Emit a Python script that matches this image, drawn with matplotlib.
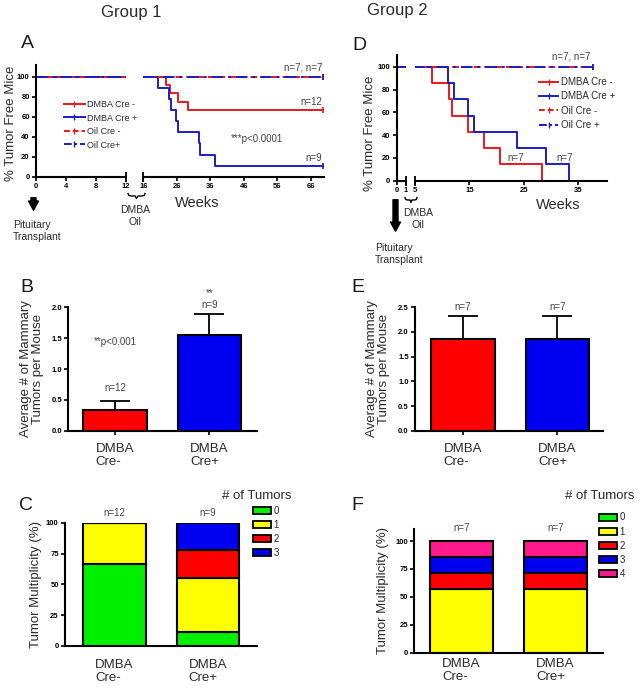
import matplotlib

matplotlib.use("Agg")
import matplotlib.pyplot as plt
from matplotlib.lines import Line2D
from matplotlib.patches import Patch

plt.rcParams.update({
    "font.family": ["Liberation Sans", "DejaVu Sans"],
    "axes.linewidth": 1.5,
    "xtick.major.width": 1.2,
    "ytick.major.width": 1.2,
    "xtick.major.size": 3,
    "ytick.major.size": 3,
    "xtick.labelsize": 5.5,
    "ytick.labelsize": 5.5,
})

W, H = 640, 688
TXT = "#2a2a2a"
RED_L, BLUE_L = "#e8181c", "#1c1cc4"
RED, BLUE, GREEN, YELLOW, PINK = "#ff0000", "#0000f0", "#00f000", "#ffff00", "#ff1a8c"

# ---- Group 1 survival (panel A), weeks / % tumor free ----
a_dmba_neg_t = [0, 22.7, 24.0, 26.5, 29.5, 69.7]
a_dmba_neg_s = [100, 91.7, 83.3, 75.0, 66.7, 66.7]
a_dmba_pos_t = [0, 20.5, 23.7, 24.2, 25.8, 26.5, 32.5, 33.0, 37.5, 69.7]
a_dmba_pos_s = [100, 88.9, 77.8, 66.7, 55.6, 44.4, 33.3, 22.2, 11.1, 11.1]
a_oil_t = [0, 69.7]
a_oil_s = [100, 100]

# ---- Group 2 survival (panel D) ----
d_dmba_neg_t = [0, 8.1, 11.3, 11.9, 14.8, 17.7, 20.6, 28.3]
d_dmba_neg_s = [100, 85.7, 71.4, 57.1, 42.9, 28.6, 14.3, 0]
d_dmba_pos_t = [0, 11.0, 12.1, 14.8, 15.9, 23.8, 29.1, 33.3]
d_dmba_pos_s = [100, 85.7, 71.4, 57.1, 42.9, 28.6, 14.3, 0]
d_oil_t = [0, 37.8]
d_oil_s = [100, 100]

# ---- average tumors per mouse (B, E) ----
bar_groups = ["DMBA\nCre-", "DMBA\nCre+"]
b_mean = [0.333, 1.556]
b_err = [0.142, 0.333]
b_n = ["n=12", "n=9"]
e_mean = [1.857, 1.857]
e_err = [0.46, 0.46]
e_n = ["n=7", "n=7"]

# ---- tumor multiplicity % (C, F) ----
c_counts = ["0", "1", "2", "3"]
c_cre_neg = [66.7, 33.3, 0, 0]
c_cre_pos = [11.1, 44.4, 22.2, 22.2]
f_counts = ["0", "1", "2", "3", "4"]
f_cre_neg = [0, 57.1, 14.3, 14.3, 14.3]
f_cre_pos = [0, 57.1, 14.3, 14.3, 14.3]
stack_colors = [GREEN, YELLOW, RED, BLUE, PINK]


def rect(l, t, r, b):
    return [l / W, 1 - b / H, (r - l) / W, (b - t) / H]


def ftext(fig, x, y, s, **kw):
    kw.setdefault("color", TXT)
    fig.text(x / W, 1 - y / H, s, **kw)


def style_axis(ax, left=True):
    ax.spines["top"].set_visible(False)
    ax.spines["right"].set_visible(False)
    if not left:
        ax.spines["left"].set_visible(False)
        ax.tick_params(axis="y", left=False, labelleft=False)
    for lab in ax.get_xticklabels() + ax.get_yticklabels():
        lab.set_fontweight("bold")
    ax.tick_params(pad=1.5)
    ax.patch.set_alpha(0)


def km_curves(ax, neg_t, neg_s, pos_t, pos_s, oil_t, oil_s, end_marks):
    kw = dict(where="post", lw=1.4)
    mk = dict(marker="|", markersize=5, markeredgewidth=1.2)
    ax.step(neg_t, neg_s, color=RED_L, ls="-", **kw,
            **(dict(markevery=[len(neg_t) - 1], **mk) if end_marks else {}))
    ax.step(pos_t, pos_s, color=BLUE_L, ls="-", **kw,
            **(dict(markevery=[len(pos_t) - 1], **mk) if end_marks else {}))
    ax.step(oil_t, oil_s, color=RED_L, ls=(0, (3.5, 2)),
            markevery=[len(oil_t) - 1], **kw, **mk)
    ax.step(oil_t, oil_s, color=BLUE_L, ls=(0, (6, 2.5, 1.5, 2.5)),
            markevery=[len(oil_t) - 1], **kw, **mk)


def break_mark(ax, x):
    ax.plot([x], [0], marker="|", markersize=7, markeredgewidth=1.3,
            color="black", clip_on=False)


def brace(fig, x0, x1, y):
    w = x1 - x0
    xs = [x0, x0 + 0.05 * w, x0 + 0.2 * w, x0 + 0.42 * w, x0 + 0.5 * w,
          x0 + 0.58 * w, x0 + 0.8 * w, x0 + 0.95 * w, x1]
    ys = [y - 2.5, y - 0.5, y, y, y + 2.5, y, y, y - 0.5, y - 2.5]
    fig.add_artist(Line2D([v / W for v in xs], [1 - v / H for v in ys],
                          color="black", lw=1.0))


def arrow(fig, x, y0, y1):
    fig.add_artist(matplotlib.patches.FancyArrowPatch(
        (x / W, 1 - y0 / H), (x / W, 1 - y1 / H),
        arrowstyle="simple,head_width=0.6,head_length=0.55,tail_width=0.3",
        mutation_scale=12, color="black", transform=fig.transFigure))


legend_handles = [
    Line2D([], [], color=RED_L, lw=1.4, marker="|", markersize=5),
    Line2D([], [], color=BLUE_L, lw=1.4, marker="|", markersize=5),
    Line2D([], [], color=RED_L, lw=1.4, ls=(0, (3, 1.5)), marker="|", markersize=5),
    Line2D([], [], color=BLUE_L, lw=1.4, ls=(0, (4, 1.5, 1.2, 1.5)), marker="|", markersize=5),
]

fig = plt.figure(figsize=(W / 100, H / 100), dpi=100)

# ================= Panel A =================
axA1 = fig.add_axes(rect(36, 65, 125.7, 176.7))
axA2 = fig.add_axes(rect(143.3, 65, 324, 176.7))
for ax in (axA1, axA2):
    km_curves(ax, a_dmba_neg_t, a_dmba_neg_s, a_dmba_pos_t, a_dmba_pos_s,
              a_oil_t, a_oil_s, True)
    ax.set_ylim(0, 111.7)
axA1.set_xlim(0, 12)
axA1.set_xticks([0, 4, 8, 12])
axA1.set_yticks([0, 20, 40, 60, 80, 100])
axA2.set_xlim(16, 70)
axA2.set_xticks([16, 26, 36, 46, 56, 66])
style_axis(axA1)
style_axis(axA2, left=False)
break_mark(axA1, 12)
break_mark(axA2, 16)
axA2.text(69.5, 104, "n=7, n=7", ha="right", va="bottom", fontsize=7, color="#444")
axA2.text(69.5, 70, "n=12", ha="right", va="bottom", fontsize=7, color="#444")
axA2.text(69.5, 13.5, "n=9", ha="right", va="bottom", fontsize=7, color="#444")
axA2.text(50, 37.4, "***p<0.0001", ha="center", va="center", fontsize=7, color="#444")
fig.legend(legend_handles, ["DMBA Cre -", "DMBA Cre +", "Oil Cre -", "Oil Cre+"],
           loc="upper left", bbox_to_anchor=(64 / W, 1 - 100 / H), frameon=False,
           fontsize=6.5, handlelength=2.3, handletextpad=0.3, labelspacing=0.5,
           borderpad=0, borderaxespad=0, labelcolor=TXT)

# ================= Panel D =================
axD1 = fig.add_axes(rect(396.7, 55, 405.7, 180.7))
axD2 = fig.add_axes(rect(415, 55, 606.7, 180.7))
for ax in (axD1, axD2):
    km_curves(ax, d_dmba_neg_t, d_dmba_neg_s, d_dmba_pos_t, d_dmba_pos_s,
              d_oil_t, d_oil_s, False)
    ax.set_ylim(0, 110.3)
axD1.set_xlim(0, 1)
axD1.set_xticks([0, 1])
axD1.set_yticks([0, 20, 40, 60, 80, 100])
axD2.set_xlim(5, 40.3)
axD2.set_xticks([5, 15, 25, 35])
style_axis(axD1)
style_axis(axD2, left=False)
break_mark(axD1, 1)
break_mark(axD2, 5)
axD2.text(37.3, 104.5, "n=7, n=7", ha="right", va="bottom", fontsize=7, color="#444")
axD2.text(23.6, 19.6, "n=7", ha="center", va="center", fontsize=7, color="#444")
axD2.text(32.6, 19.6, "n=7", ha="center", va="center", fontsize=7, color="#444")
fig.legend(legend_handles, ["DMBA Cre -", "DMBA Cre +", "Oil Cre -", "Oil Cre +"],
           loc="upper left", bbox_to_anchor=(539 / W, 1 - 77 / H), frameon=False,
           fontsize=7, handlelength=2.0, handletextpad=0.3, labelspacing=0.45,
           borderpad=0, borderaxespad=0, labelcolor=TXT)


def group_labels(ax, pad):
    ax.set_xticklabels(bar_groups, multialignment="left", linespacing=1.12)
    for lab in ax.get_xticklabels():
        lab.set_fontweight("normal")
        lab.set_fontsize(9.5)
        lab.set_color(TXT)
    ax.tick_params(axis="x", pad=pad)


# ================= Panels B, E =================
def bar_panel(ax, means, errs, labels_n, ymax, step, n_y):
    x = range(len(means))
    ax.bar(x, means, width=0.67, color=[RED, BLUE], edgecolor="black",
           linewidth=1.5, zorder=2)
    ax.errorbar(x, means, yerr=[[0] * len(errs), errs], fmt="none",
                ecolor="black", elinewidth=1.3, capsize=11, capthick=1.3, zorder=3)
    ax.set_ylim(0, ymax)
    ax.set_yticks([i * step for i in range(int(round(ymax / step)) + 1)])
    ax.yaxis.set_major_formatter(matplotlib.ticker.FormatStrFormatter("%.1f"))
    ax.set_xticks(list(x))
    style_axis(ax)
    group_labels(ax, 6)
    for xi, s, yv in zip(x, labels_n, n_y):
        ax.text(xi, yv, s, ha="center", va="center", fontsize=7, color="#444")


axB = fig.add_axes(rect(68.3, 307.3, 256.7, 430.7))
bar_panel(axB, b_mean, b_err, b_n, 2.0, 0.5, [0.69, 2.04])
axB.set_xlim(-0.495, 1.503)
axB.text(1, 2.23, "**", ha="center", va="center", fontsize=7, color="#444")
axB.text(0, 1.44, "**p<0.001", ha="center", va="center", fontsize=7, color="#444")

axE = fig.add_axes(rect(415, 307.3, 603.3, 430.7))
bar_panel(axE, e_mean, e_err, e_n, 2.5, 0.5, [2.51, 2.51])
axE.set_xlim(-0.51, 1.49)


# ================= Panels C, F =================
def stack_panel(ax, neg, pos, labels_n, n_y, pad):
    bottoms = [0, 0]
    for k in range(len(neg)):
        vals = [neg[k], pos[k]]
        ax.bar([0, 1], vals, bottom=bottoms, width=0.67, color=stack_colors[k],
               edgecolor="black", linewidth=1.5, zorder=2)
        bottoms = [bottoms[0] + vals[0], bottoms[1] + vals[1]]
    ax.set_yticks([0, 25, 50, 75, 100])
    ax.set_xticks([0, 1])
    style_axis(ax)
    group_labels(ax, pad)
    ax.tick_params(axis="x", length=0)
    for xi, s in zip([0, 1], labels_n):
        ax.text(xi, n_y, s, ha="center", va="center", fontsize=7, color="#444")


axC = fig.add_axes(rect(65, 522.7, 256.7, 646))
stack_panel(axC, c_cre_neg, c_cre_pos, b_n, 108, 9)
axC.set_ylim(0, 100)
axC.set_xlim(-0.525, 1.52)

axF = fig.add_axes(rect(414.3, 529.3, 603.3, 652.7))
stack_panel(axF, f_cre_neg, f_cre_pos, e_n, 111.6, 3.5)
axF.set_ylim(0, 110.5)
axF.set_xlim(-0.498, 1.51)

for counts, x0, y0 in ((c_counts, 253, 506), (f_counts, 599, 512.5)):
    handles = [Patch(facecolor=stack_colors[i], edgecolor="black", linewidth=1.3)
               for i in range(len(counts))]
    fig.legend(handles, counts, loc="upper left", bbox_to_anchor=(x0 / W, 1 - y0 / H),
               frameon=False, fontsize=7, handlelength=1.9, handleheight=0.75,
               handletextpad=0.2, labelspacing=0.42, borderpad=0, borderaxespad=0,
               labelcolor=TXT)
ftext(fig, 257, 496, "# of Tumors", fontsize=9.5, ha="center", va="center")
ftext(fig, 600, 496, "# of Tumors", fontsize=9.5, ha="center", va="center")

# ================= Titles, letters, labels =================
ftext(fig, 131, 12, "Group 1", fontsize=12, ha="center", va="center")
ftext(fig, 397, 11, "Group 2", fontsize=12, ha="center", va="center")
for s, x, y in (("A", 27, 43), ("D", 359, 45), ("B", 27, 287), ("E", 358, 287),
                ("C", 26, 505), ("F", 357, 505)):
    ftext(fig, x, y, s, fontsize=14, ha="center", va="center", color="#1a1a1a")

ftext(fig, 11, 123, "% Tumor Free Mice", fontsize=9.5, rotation=90, ha="center", va="center")
ftext(fig, 370, 133, "% Tumor Free Mice", fontsize=9.5, rotation=90, ha="center", va="center")
ftext(fig, 32, 369, "Average # of Mammary\nTumors per Mouse", fontsize=9.5,
      rotation=90, ha="center", va="center", linespacing=1.05)
ftext(fig, 378, 369, "Average # of Mammary\nTumors per Mouse", fontsize=9.5,
      rotation=90, ha="center", va="center", linespacing=1.05)
ftext(fig, 36, 584, "Tumor Multiplicity (%)", fontsize=9.5, rotation=90, ha="center", va="center")
ftext(fig, 383, 591, "Tumor Multiplicity (%)", fontsize=9.5, rotation=90, ha="center", va="center")

ftext(fig, 197, 203, "Weeks", fontsize=10.5, ha="center", va="center")
ftext(fig, 558, 205, "Weeks", fontsize=10.5, ha="center", va="center")

arrow(fig, 33.5, 195, 213)
arrow(fig, 395.5, 197, 234)
ftext(fig, 13, 231, "Pituitary\nTransplant", fontsize=7.5, ha="left", va="center",
      linespacing=1.15)
ftext(fig, 375, 254, "Pituitary\nTransplant", fontsize=7.5, ha="left", va="center",
      linespacing=1.15)
brace(fig, 128, 145, 196)
brace(fig, 405, 417, 200)
ftext(fig, 135, 216, "DMBA\nOil", fontsize=7.5, ha="center", va="center", linespacing=1.15)
ftext(fig, 418, 219, "DMBA\nOil", fontsize=7.5, ha="center", va="center", linespacing=1.15)

fig.savefig("out.png", dpi=100)
